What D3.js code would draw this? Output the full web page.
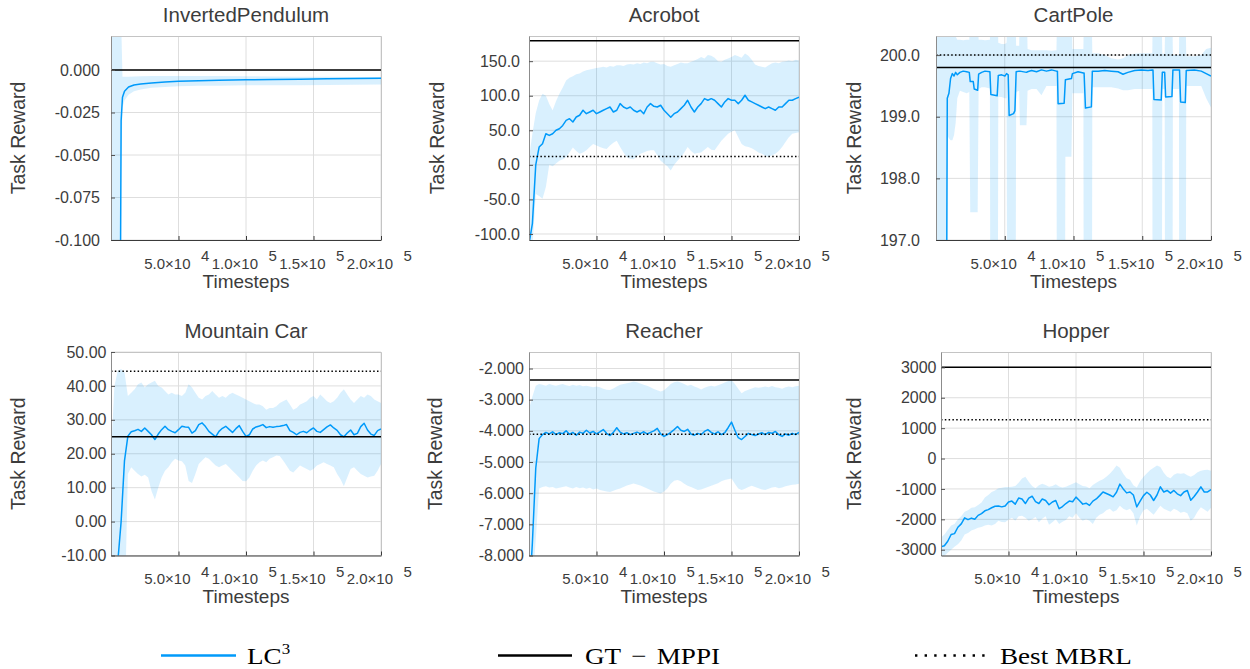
<!DOCTYPE html>
<html>
<head>
<meta charset="utf-8">
<script src="https://cdn.jsdelivr.net/npm/d3@7"></script>
<style>
  body { margin: 0; background: #fff; }
  svg { display: block; background: #fff; }
</style>
</head>
<body>
<svg id="chart" width="1250" height="669"></svg>
<script>
// ---------- data ----------
var titles = ["InvertedPendulum", "Acrobot", "CartPole", "Mountain Car", "Reacher", "Hopper"];

// x axis (timesteps)
var xTicks = [50000, 100000, 150000, 200000];
var xTickMant = ["5.0", "1.0", "1.5", "2.0"];
var xTickExp = ["4", "5", "5", "5"];

// regular logging grid used by Acrobot, Mountain Car, Reacher, Hopper
var gridSteps = [0, 2500, 5000, 7500, 10000, 12500, 15000, 17500, 20000, 22500,
  25000, 27500, 30000, 32500, 35000, 37500, 40000, 42500, 45000, 47500,
  50000, 52500, 55000, 57500, 60000, 62500, 65000, 67500, 70000, 72500,
  75000, 77500, 80000, 82500, 85000, 87500, 90000, 92500, 95000, 97500,
  100000, 102500, 105000, 107500, 110000, 112500, 115000, 117500, 120000, 122500,
  125000, 127500, 130000, 132500, 135000, 137500, 140000, 142500, 145000, 147500,
  150000, 152500, 155000, 157500, 160000, 162500, 165000, 167500, 170000, 172500,
  175000, 177500, 180000, 182500, 185000, 187500, 190000, 192500, 195000, 197500,
  200000];

// InvertedPendulum
var ipSteps = [0, 6000, 7500, 8500, 10000, 13000, 17000, 22000, 30000, 40000, 50000,
  65000, 80000, 100000, 120000, 140000, 160000, 180000, 200000];
var ipMean = [-0.6, -0.3, -0.03, -0.016, -0.0125, -0.0100, -0.0088, -0.0082, -0.0076, -0.0070,
  -0.0066, -0.0063, -0.0061, -0.0058, -0.0056, -0.0054, -0.0052, -0.0050, -0.0048];
var ipLow = [-1.2, -0.6, -0.06, -0.022, -0.018, -0.0145, -0.0125, -0.0115, -0.0105, -0.0100,
  -0.0095, -0.0093, -0.0092, -0.0090, -0.0089, -0.0089, -0.0088, -0.0087, -0.0086];
var ipHigh = [0.05, 0.05, 0.03, -0.004, -0.004, -0.0040, -0.0038, -0.0037, -0.0036, -0.0035,
  -0.0035, -0.0036, -0.0036, -0.0037, -0.0038, -0.0039, -0.0040, -0.0041, -0.0041];

// Acrobot
var acMean = [-115, -85, 0, 25.7, 30.5, 45, 42.6, 45, 50, 52.3,
  57, 64.4, 66.8, 62, 69.2, 71.7, 79, 74, 76.5, 79,
  74, 76.5, 79, 81.3, 83.7, 76.5, 79, 88.6, 83.7, 81.3,
  83.7, 79, 76.5, 79, 74, 83.7, 88.6, 84.7, 83.7, 86.2,
  79, 74, 69, 74, 76.5, 81.3, 86.2, 93.4, 83.7, 76.5,
  83.7, 88.6, 95.8, 93.4, 95.8, 93.4, 88.6, 83.7, 91, 95.8,
  93.4, 93.4, 88.6, 93.4, 100.7, 93.4, 91, 88.6, 86.2, 83.7,
  81.3, 83.7, 81.3, 79, 83.7, 83.7, 88.6, 93.4, 93.4, 95.8,
  98];
var acHigh = [10, 45, 75, 93, 103, 100, 88, 79, 92, 103,
  112, 122, 126, 128, 131, 132, 135, 137, 138, 139,
  140, 141, 142, 141, 143, 142, 144, 144, 143, 145,
  146, 145, 147, 146, 148, 147, 149, 149, 147, 145,
  146, 143, 142, 144, 146, 148, 147, 147, 149, 151,
  153, 156, 154, 159, 158, 155, 150, 149, 152, 154,
  156, 159, 157, 155, 161, 158, 152, 145, 143, 142,
  141, 144, 147, 148, 147, 149, 150, 151, 150, 152,
  151];
var acLow = [-200, -120, -42, -45, -49, -32, 0, -2, 2, 6,
  8, 11, 18, 25, 20, 16, 18, 21, 26, 30,
  28, 26, 24, 23, 28, 32, 35, 26, 18, 11,
  9, 8, 12, 16, 18, 20, 21, 21, 14, 6,
  2, -2, -8, 0, 6, 11, 18, 26, 20, 16,
  17, 18, 22, 26, 22, 21, 28, 35, 40, 45,
  48, 50, 40, 30, 27, 26, 24, 21, 18, 16,
  13, 11, 14, 16, 20, 26, 33, 40, 45, 46,
  47];

// CartPole
var cpSteps = [0, 7700, 8200, 9400, 10600, 11900, 13100, 14300, 15500, 17400,
  19800, 22300, 24200, 24900, 27100, 27800, 30300, 31000, 33200, 35600,
  39200, 39900, 44500, 45300, 47700, 50100, 51300, 52500, 53200, 56400,
  57400, 58300, 60500, 61000, 65800, 66600, 69500, 73100, 76700, 80300,
  84000, 87600, 88300, 88800, 93200, 94100, 98500, 99200, 103300, 107200,
  107700, 108700, 113000, 113700, 117900, 122700, 127500, 132400, 136000, 139600,
  144500, 149300, 154200, 157300, 157800, 158500, 163800, 164600, 166300, 167000,
  171600, 172300, 176700, 177100, 177900, 181300, 182000, 188000, 192900, 196500,
  200000];
var cpMean = [190, 196.0, 199.30, 199.38, 199.62, 199.70, 199.66, 199.72, 199.68, 199.72,
  199.74, 199.73, 199.72, 199.57, 199.57, 199.45, 199.43, 199.69, 199.72, 199.74,
  199.73, 199.36, 199.34, 199.67, 199.68, 199.66, 199.70, 199.68, 199.02, 199.05,
  199.10, 199.73, 199.74, 199.74, 199.72, 199.73, 199.75, 199.73, 199.76, 199.74,
  199.76, 199.74, 199.74, 199.21, 199.22, 199.60, 199.62, 199.70, 199.73, 199.71,
  199.71, 199.14, 199.16, 199.74, 199.74, 199.75, 199.74, 199.73, 199.69, 199.72,
  199.75, 199.76, 199.75, 199.76, 199.76, 199.28, 199.27, 199.72, 199.72, 199.32,
  199.33, 199.76, 199.76, 199.76, 199.24, 199.23, 199.75, 199.76, 199.74, 199.70,
  199.66];
var cpLow = [180, 185, 198.70, 198.65, 198.62, 198.62, 198.70, 198.90, 199.30, 199.42,
  199.40, 199.38, 199.40, 197.45, 197.45, 197.45, 197.45, 199.45, 199.48, 199.48,
  199.46, 190, 190, 199.32, 199.32, 199.30, 199.30, 190, 190, 190,
  190, 199.40, 199.42, 198.86, 198.86, 199.42, 199.45, 199.45, 199.35, 199.50,
  199.50, 199.50, 190, 190, 190, 198.35, 198.35, 199.38, 199.38, 199.38,
  190, 190, 190, 199.48, 199.48, 199.48, 199.48, 199.46, 199.43, 199.43,
  199.45, 199.45, 199.45, 199.45, 190, 190, 190, 199.45, 199.45, 190,
  190, 199.45, 199.45, 190, 190, 190, 199.50, 199.50, 199.50, 199.30,
  199.15];
var cpHigh = [201, 201, 200.50, 200.50, 200.45, 200.40, 200.35, 200.30, 200.25, 200.25,
  200.24, 200.25, 200.25, 201, 201, 201, 201, 200.25, 200.25, 200.24,
  200.25, 201, 201, 200.20, 200.18, 200.18, 200.20, 201, 201, 201,
  201, 200.15, 200.15, 201, 201, 200.10, 200.08, 200.08, 200.08, 200.08,
  200.07, 200.08, 201, 201, 201, 201, 201, 200.10, 200.10, 200.10,
  201, 201, 201, 200.03, 200.03, 200.00, 199.95, 199.93, 199.95, 200.00,
  200.02, 200.03, 200.03, 200.03, 201, 201, 201, 200.02, 200.02, 201,
  201, 200.00, 200.00, 201, 201, 201, 199.98, 199.98, 200.00, 200.10,
  200.12];

// Mountain Car
var mcMean = [-40, -30, -12, 0, 18, 25.2, 26.5, 26.8, 27.2, 26.6,
  27.6, 26.6, 25.6, 24.2, 25.8, 27.1, 28.1, 27.1, 26.6, 26.2,
  27.1, 28.1, 27.9, 27.8, 26.1, 26.8, 28.6, 29.1, 28.0, 26.6,
  25.8, 25.0, 26.6, 27.5, 28.1, 27.2, 26.3, 27.4, 28.3, 26.6,
  25.1, 25.6, 27.3, 27.9, 28.2, 28.6, 27.7, 28.0, 27.8, 28.0,
  28.1, 28.3, 28.6, 26.8, 26.3, 25.6, 26.3, 26.6, 26.2, 27.0,
  27.6, 26.6, 26.3, 27.1, 27.9, 28.5, 27.6, 26.9, 25.6, 25.0,
  26.1, 27.0, 25.6, 26.0, 28.0, 29.0, 27.0, 25.8, 25.4, 26.8,
  27.3];
var mcHigh = [20, 40, 44.5, 45, 44, 37, 38, 39, 40.5, 41,
  39.5, 40.5, 41, 41.5, 40, 39.5, 38.5, 37.5, 38, 37.5,
  37.5, 37, 38, 40.5, 39.5, 38, 36.5, 36, 37, 37.5,
  38.5, 37.5, 36.5, 37, 36.5, 37.5, 38, 37.5, 37, 36.5,
  36, 35.5, 35, 34.5, 34.5, 34, 33, 33.5, 33.5, 34,
  35, 35.5, 36, 34.5, 33, 33.5, 34.5, 35, 35.5, 36.5,
  37, 36, 37.5, 36.5, 35.5, 35, 35.5, 36.5, 38, 39,
  37.5, 36, 35, 36, 37, 36.5, 37.5, 37, 36, 35.5,
  35];
var mcLow = [-40, -40, -40, -40, -30, 14, 16, 15, 14, 13.3,
  13.8, 13, 9, 6.5, 10, 13, 15, 16, 17.5, 18.5,
  18, 17.8, 16.5, 12, 11.4, 14, 17, 18, 19, 18.5,
  17.5, 16.5, 16, 16.5, 17, 16, 15, 14, 13, 12,
  11.9, 13, 15, 16.5, 17.5, 18, 17.5, 18.5, 19, 19.5,
  19.3, 18, 16.5, 15, 14.5, 15.5, 16.5, 16, 15.5, 15,
  15.5, 16.5, 17, 17.5, 17, 16.5, 16, 14, 12.5, 10.4,
  13, 15.5, 16, 15, 14, 13.5, 13, 13.3, 13.5, 15,
  17];

// Reacher
var reMean = [-9.5, -7.6, -5.2, -4.25, -4.12, -4.05, -4.10, -4.03, -4.12, -4.06,
  -4.09, -4.00, -4.11, -4.05, -4.14, -4.04, -4.08, -3.98, -4.07, -4.02,
  -4.10, -4.03, -3.96, -4.08, -4.15, -4.05, -3.90, -4.04, -4.10, -4.06,
  -4.12, -4.08, -4.04, -4.09, -4.03, -4.10, -4.05, -4.00, -3.92, -4.10,
  -4.18, -4.12, -4.05, -3.96, -3.86, -3.98, -4.02, -3.95, -4.10, -4.14,
  -4.08, -4.12, -4.02, -3.96, -4.05, -4.10, -4.03, -4.12, -4.06, -3.90,
  -3.72, -3.98, -4.22, -4.28, -4.18, -4.08, -4.12, -4.15, -4.10, -4.06,
  -4.12, -4.05, -4.08, -4.02, -4.12, -4.18, -4.10, -4.14, -4.08, -4.12,
  -4.05];
var reHigh = [-3.3, -2.9, -2.55, -2.5, -2.52, -2.55, -2.5, -2.53, -2.55, -2.52,
  -2.5, -2.54, -2.56, -2.52, -2.55, -2.53, -2.57, -2.55, -2.58, -2.6,
  -2.58, -2.6, -2.65, -2.68, -2.69, -2.64, -2.58, -2.52, -2.5, -2.47,
  -2.45, -2.42, -2.44, -2.48, -2.52, -2.55, -2.6, -2.66, -2.7, -2.74,
  -2.7, -2.6, -2.5, -2.44, -2.42, -2.45, -2.5, -2.55, -2.52, -2.58,
  -2.62, -2.67, -2.62, -2.58, -2.55, -2.58, -2.54, -2.5, -2.45, -2.4,
  -2.37, -2.5, -2.65, -2.79, -2.72, -2.68, -2.64, -2.6, -2.62, -2.6,
  -2.58, -2.6, -2.56, -2.6, -2.62, -2.65, -2.6, -2.58, -2.6, -2.57,
  -2.55];
var reLow = [-9.5, -9, -7.5, -5.85, -5.8, -5.78, -5.82, -5.8, -5.85, -5.83,
  -5.8, -5.78, -5.82, -5.85, -5.8, -5.84, -5.82, -5.86, -5.83, -5.88,
  -5.85, -5.9, -5.92, -5.95, -5.96, -5.92, -5.88, -5.85, -5.8, -5.75,
  -5.72, -5.69, -5.72, -5.75, -5.8, -5.85, -5.9, -5.95, -5.98, -6.01,
  -5.95, -5.85, -5.7, -5.6, -5.58, -5.62, -5.7, -5.76, -5.8, -5.85,
  -5.9, -5.88, -5.84, -5.8, -5.76, -5.72, -5.68, -5.62, -5.58, -5.55,
  -5.53, -5.7, -5.85, -5.9, -5.86, -5.8, -5.76, -5.8, -5.84, -5.88,
  -5.9, -5.86, -5.82, -5.8, -5.84, -5.82, -5.78, -5.75, -5.73, -5.72,
  -5.7];

// Hopper
var hoMean = [-2900, -2870, -2720, -2500, -2470, -2260, -2150, -1950, -2010, -1960,
  -2000, -1870, -1810, -1720, -1680, -1620, -1570, -1560, -1590, -1560,
  -1430, -1400, -1500, -1300, -1330, -1480, -1300, -1240, -1420, -1480,
  -1330, -1380, -1520, -1430, -1380, -1650, -1580, -1480, -1400, -1420,
  -1270, -1380, -1500, -1470, -1540, -1400, -1330, -1220, -1100, -1150,
  -1200, -1260, -1110, -840, -1000, -1130, -1100, -1200, -1590, -1400,
  -1220, -1110, -1200, -1380, -1200, -930, -1100, -1050, -1140, -1050,
  -1160, -1220, -1100, -1050, -1370, -1250, -1100, -930, -1100, -1100,
  -1020];
var hoHigh = [-2600, -2500, -2350, -2200, -2150, -2000, -1900, -1750, -1700, -1620,
  -1600, -1530, -1450, -1280, -1200, -1100, -1050, -980, -960, -940,
  -940, -930, -900, -800, -660, -600, -760, -900, -980, -880,
  -830, -870, -930, -900, -850, -920, -950, -930, -880, -830,
  -780, -850, -900, -920, -980, -870, -800, -730, -680, -600,
  -500, -380, -230, -300, -500, -650, -700, -880, -950, -750,
  -600, -480, -380, -300, -230, -280, -470, -600, -650, -530,
  -480, -500, -480, -550, -600, -540, -450, -400, -380, -370,
  -400];
var hoLow = [-3250, -3200, -3100, -3000, -2900, -2820, -2700, -2500, -2450, -2370,
  -2330, -2280, -2250, -2200, -2180, -2200, -2150, -2050, -2090, -2100,
  -2010, -1950, -2050, -1900, -1880, -1950, -2050, -2000, -1920, -2100,
  -1980, -1900, -2180, -2100, -2000, -2150, -2080, -2020, -1900, -1950,
  -1800, -1950, -2050, -2000, -2050, -2150, -1950, -1850, -1800, -1700,
  -1650, -1750, -1700, -1550, -1650, -1700, -1650, -1800, -2200, -1900,
  -1700, -1650, -1750, -1850, -1700, -1550, -1650, -1700, -1750, -1650,
  -1700, -1780, -1750, -1800, -2050, -1950, -1750, -1600, -1680, -1750,
  -1620];

// reference lines (GT-MPPI solid, Best MBRL dotted)
var gtValues = [0, 179.6, 199.8, 25, -2.365, 3000];
var mbrlValues = [null, 12.2, 200.0, 44.3, -4.107, 1277];

// y axes
var yDomains = [[-0.1, 0.02], [-108.7, 186.4], [197, 200.31], [-10, 50], [-8, -1.47], [-3190, 3505]];
var yTickValues = [
  [-0.1, -0.075, -0.05, -0.025, 0],
  [-100, -50, 0, 50, 100, 150],
  [197, 198, 199, 200],
  [-10, 0, 10, 20, 30, 40, 50],
  [-8, -7, -6, -5, -4, -3, -2],
  [-3000, -2000, -1000, 0, 1000, 2000, 3000]
];
var yFormats = [".3f", ".1f", ".1f", ".2f", ".3f", "d"];

var legendLabels = ["LC", "GT", "\u2212", "MPPI", "Best MBRL"];

// ---------- layout ----------
var layout = [
  {left: 111, right: 381, top: 36, bottom: 240, gap: 11, ylabX: 18},
  {left: 529, right: 799, top: 36, bottom: 240, gap: 9, ylabX: 437},
  {left: 936, right: 1211, top: 36, bottom: 240, gap: 16, ylabX: 854},
  {left: 111, right: 381, top: 352, bottom: 555.5, gap: 4.5, ylabX: 18},
  {left: 529, right: 799, top: 352, bottom: 555.5, gap: 5, ylabX: 435},
  {left: 941, right: 1211, top: 352, bottom: 555.5, gap: 4.5, ylabX: 854}
];

var blue = "#009AFA";
var textColor = "#3c3c3c";
var sans = "'Liberation Sans', Arial, Helvetica, sans-serif";
var serif = "'Liberation Serif', 'Times New Roman', serif";

var locale = d3.formatLocale({decimal: ".", thousands: "", grouping: [3], currency: ["", ""], minus: "-"});

var panels = [
  {steps: ipSteps, mean: ipMean, lo: ipLow, hi: ipHigh},
  {steps: gridSteps, mean: acMean, lo: acLow, hi: acHigh},
  {steps: cpSteps, mean: cpMean, lo: cpLow, hi: cpHigh},
  {steps: gridSteps, mean: mcMean, lo: mcLow, hi: mcHigh},
  {steps: gridSteps, mean: reMean, lo: reLow, hi: reHigh},
  {steps: gridSteps, mean: hoMean, lo: hoLow, hi: hoHigh}
];

var svg = d3.select("#chart");

panels.forEach(function(p, i) {
  var b = layout[i];
  var x = d3.scaleLinear().domain([0, 200000]).range([b.left, b.right]);
  var y = d3.scaleLinear().domain(yDomains[i]).range([b.bottom, b.top]);
  var g = svg.append("g");

  g.append("clipPath").attr("id", "clip" + i).append("rect")
    .attr("x", b.left).attr("y", b.top)
    .attr("width", b.right - b.left).attr("height", b.bottom - b.top);

  // grid
  g.append("g").selectAll("line").data(xTicks).join("line")
    .attr("x1", d => x(d)).attr("x2", d => x(d))
    .attr("y1", b.top).attr("y2", b.bottom)
    .attr("stroke", "#dedede").attr("stroke-width", 1);
  g.append("g").selectAll("line").data(yTickValues[i]).join("line")
    .attr("x1", b.left).attr("x2", b.right)
    .attr("y1", d => y(d)).attr("y2", d => y(d))
    .attr("stroke", "#dedede").attr("stroke-width", 1);

  // ribbon + mean
  var plot = g.append("g").attr("clip-path", "url(#clip" + i + ")");
  var idx = d3.range(p.steps.length);
  plot.append("path").datum(idx)
    .attr("d", d3.area().x(k => x(p.steps[k])).y0(k => y(p.lo[k])).y1(k => y(p.hi[k])))
    .attr("fill", blue).attr("fill-opacity", 0.15);
  plot.append("path").datum(idx)
    .attr("d", d3.line().x(k => x(p.steps[k])).y(k => y(p.mean[k])))
    .attr("fill", "none").attr("stroke", blue).attr("stroke-width", 1.5)
    .attr("stroke-linejoin", "round");

  // reference lines
  if (mbrlValues[i] != null) {
    plot.append("line")
      .attr("x1", b.left).attr("x2", b.right)
      .attr("y1", y(mbrlValues[i])).attr("y2", y(mbrlValues[i]))
      .attr("stroke", "#000").attr("stroke-width", 1.5)
      .attr("stroke-dasharray", "1.5,2.3");
  }
  plot.append("line")
    .attr("x1", b.left).attr("x2", b.right)
    .attr("y1", y(gtValues[i])).attr("y2", y(gtValues[i]))
    .attr("stroke", "#000").attr("stroke-width", 1.5);

  // frame top/right
  g.append("path")
    .attr("d", "M" + b.left + "," + (b.top + 0.5) + "H" + (b.right + 0.5) + "V" + b.bottom)
    .attr("fill", "none").attr("stroke", "#c4c4c4");

  // y axis
  var yAxis = d3.axisLeft(y).tickValues(yTickValues[i])
    .tickFormat(locale.format(yFormats[i]))
    .tickSize(-4).tickSizeOuter(0).tickPadding(b.gap);
  var ya = g.append("g").attr("transform", "translate(" + b.left + ",0)").call(yAxis);
  ya.select(".domain").attr("stroke", "#8c8c8c");
  ya.selectAll(".tick line").attr("stroke", "#555");
  ya.selectAll("text").attr("font-family", sans).attr("font-size", 16).attr("fill", textColor);

  // x axis
  var xAxis = d3.axisBottom(x).tickValues(xTicks).tickFormat("")
    .tickSize(-4).tickSizeOuter(0);
  var xa = g.append("g").attr("transform", "translate(0," + b.bottom + ")").call(xAxis);
  xa.select(".domain").attr("stroke", "#3a3a3a");
  xa.selectAll(".tick line").attr("stroke", "#3a3a3a");

  var lab = g.append("g").attr("font-family", sans).attr("font-size", 15).attr("fill", textColor);
  lab.selectAll("text.mant").data(xTicks).join("text").attr("class", "mant")
    .attr("x", d => x(d) + 12).attr("y", b.bottom + 28.5)
    .attr("text-anchor", "end")
    .text((d, k) => xTickMant[k] + "\u00d710");
  lab.selectAll("text.exp").data(xTicks).join("text").attr("class", "exp")
    .attr("x", d => x(d) + 22.5).attr("y", b.bottom + 21)
    .attr("text-anchor", "start")
    .text((d, k) => xTickExp[k]);

  // titles and axis labels
  g.append("text")
    .attr("x", (b.left + b.right) / 2).attr("y", b.top - 14.5)
    .attr("text-anchor", "middle")
    .attr("font-family", sans).attr("font-size", 20.5).attr("fill", textColor)
    .text(titles[i]);
  g.append("text")
    .attr("x", (b.left + b.right) / 2).attr("y", b.bottom + 47.5)
    .attr("text-anchor", "middle")
    .attr("font-family", sans).attr("font-size", 19).attr("fill", textColor)
    .text("Timesteps");
  g.append("text")
    .attr("transform", "translate(" + (b.ylabX + 7) + "," + ((b.top + b.bottom) / 2) + ") rotate(-90)")
    .attr("text-anchor", "middle")
    .attr("font-family", sans).attr("font-size", 19.5).attr("fill", textColor)
    .text("Task Reward");
});

// ---------- legend ----------
var leg = svg.append("g").attr("font-family", serif).attr("fill", "#000").attr("font-size", 24);
var legY = 663.5;

function legText(x, str, anchor) {
  return leg.append("text")
    .attr("transform", "translate(" + x + "," + legY + ") scale(1.13,1)")
    .attr("text-anchor", anchor || "start")
    .text(str);
}

leg.append("line").attr("x1", 161).attr("x2", 236).attr("y1", 655.5).attr("y2", 655.5)
  .attr("stroke", blue).attr("stroke-width", 2.5);
var lc = legText(247, legendLabels[0]);
lc.append("tspan").attr("font-size", 15).attr("dy", -10).text("3");

leg.append("line").attr("x1", 498).attr("x2", 572).attr("y1", 655.5).attr("y2", 655.5)
  .attr("stroke", "#000").attr("stroke-width", 2.5);
legText(585, legendLabels[1]);
legText(639, legendLabels[2], "middle");
legText(720, legendLabels[3], "end");

leg.append("line").attr("x1", 915).attr("x2", 989).attr("y1", 655.5).attr("y2", 655.5)
  .attr("stroke", "#000").attr("stroke-width", 2.4)
  .attr("stroke-dasharray", "2.4,7.2");
legText(1000, legendLabels[4]);
</script>
</body>
</html>
